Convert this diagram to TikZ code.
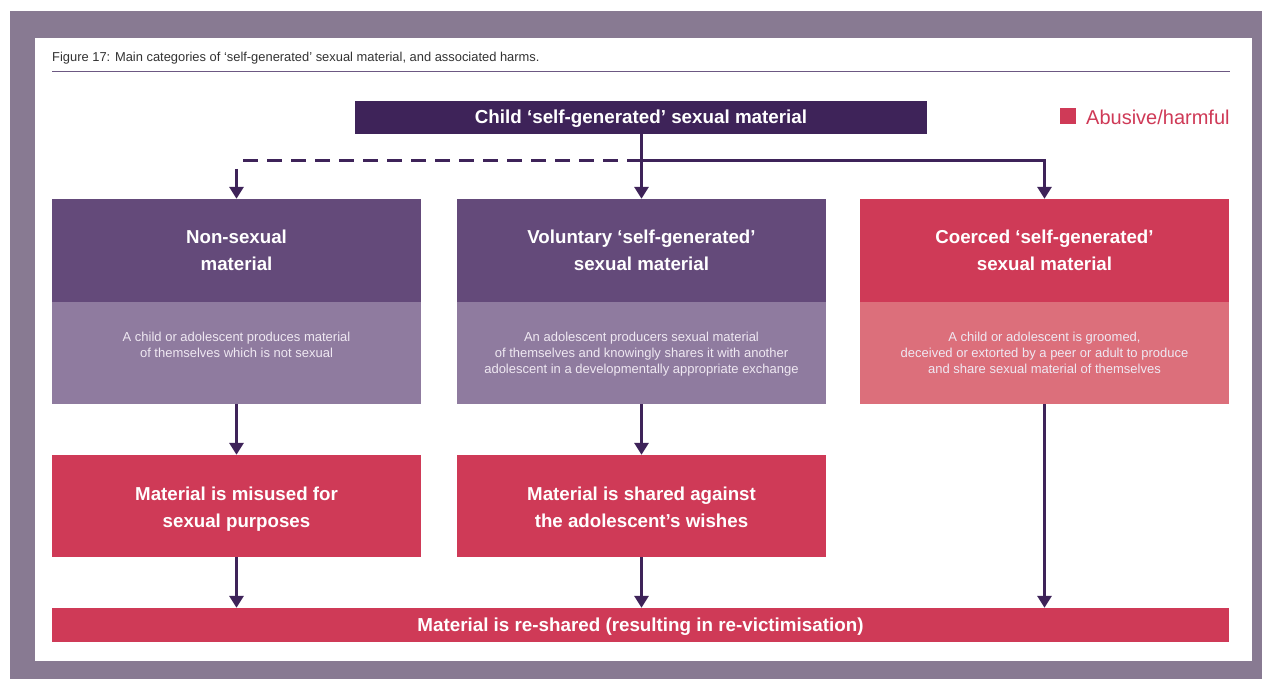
\documentclass[tikz,border=0pt]{standalone}
\usepackage{fontspec}
\setmainfont{Liberation Sans}
\usetikzlibrary{arrows.meta}
\definecolor{framec}{HTML}{887A92}
\definecolor{darkp}{HTML}{3E2359}
\definecolor{headp}{HTML}{644A7A}
\definecolor{descp}{HTML}{8F7B9F}
\definecolor{redc}{HTML}{CF3A57}
\definecolor{lightr}{HTML}{DC6F7B}
\definecolor{descw}{HTML}{EFE8F2}
\definecolor{rulec}{HTML}{6C5882}
\definecolor{capc}{HTML}{333333}
\tikzset{
  colbox/.style={rectangle, inner sep=0pt, minimum width=369pt, align=center, text=white},
  headbox/.style={colbox, minimum height=103pt, font=\bfseries\fontsize{18.7}{27}\selectfont},
  descbox/.style={colbox, minimum height=102pt},
  desctext/.style={align=center, text=descw, anchor=north, inner sep=0pt, font=\fontsize{13}{16}\selectfont},
  harmbox/.style={colbox, fill=redc, minimum height=102pt, font=\bfseries\fontsize{18.7}{27}\selectfont},
  arr/.style={draw=darkp, line width=3pt, -{Triangle[width=14pt,length=12pt]}},
  link/.style={draw=darkp, line width=3pt},
}
\begin{document}
\begin{tikzpicture}[x=1pt,y=-1pt]
\useasboundingbox (0,0) rectangle (1262,679);
\fill[white] (0,0) rectangle (1262,679);
\fill[framec] (10,11) rectangle (1262,679);
\fill[white] (35,38) rectangle (1252,661);

% caption and rule
\node[anchor=west, inner sep=0pt, text=capc, font=\fontsize{12.9}{14}\selectfont] (cap) at (52,58)
  {Figure 17: Main categories of ‘self-generated’ sexual material, and associated harms.};
\draw[rulec, line width=1.2pt] (52,71.5) -- (1230,71.5);

% top box
\node[rectangle, fill=darkp, inner sep=0pt, minimum width=572pt, minimum height=33pt, text=white,
  text height=15pt, text depth=2pt,
  font=\bfseries\fontsize{18.8}{20}\selectfont] (top) at (641,117.5) {Child ‘self-generated’ sexual material};

% legend
\node[rectangle, fill=redc, inner sep=0pt, minimum width=16pt, minimum height=16pt] (legsq) at (1068,116) {};
\node[anchor=west, inner sep=0pt, text=redc, font=\fontsize{20}{22}\selectfont] (legtx) at (1086,117.5) {Abusive/harmful};

% column headers
\node[headbox, fill=headp] (lh) at (236.5,250.5) {Non-sexual\\material};
\node[headbox, fill=headp] (mh) at (641.5,250.5) {Voluntary ‘self-generated’\\sexual material};
\node[headbox, fill=redc] (rh) at (1044.5,250.5) {Coerced ‘self-generated’\\sexual material};

% descriptions
\node[descbox, fill=descp] (ld) at (236.5,353) {};
\node[descbox, fill=descp] (md) at (641.5,353) {};
\node[descbox, fill=lightr] (rd) at (1044.5,353) {};
\node[desctext] (ldt) at (236.5,331.5) {A child or adolescent produces material\\of themselves which is not sexual};
\node[desctext] (mdt) at (641.5,331.5) {An adolescent producers sexual material\\of themselves and knowingly shares it with another\\adolescent in a developmentally appropriate exchange};
\node[desctext] (rdt) at (1044.5,331.5) {A child or adolescent is groomed,\\deceived or extorted by a peer or adult to produce\\and share sexual material of themselves};

% harm boxes
\node[harmbox] (lharm) at (236.5,506) {\rule{0pt}{20pt}Material is misused for\\sexual purposes\rule[-4pt]{0pt}{1pt}};
\node[harmbox] (mharm) at (641.5,506) {\rule{0pt}{20pt}Material is shared against\\the adolescent’s wishes\rule[-4pt]{0pt}{1pt}};

% bottom bar
\node[rectangle, fill=redc, inner sep=0pt, minimum width=1177pt, minimum height=34pt, text=white,
  text height=15pt, text depth=2pt,
  font=\bfseries\fontsize{18.8}{20}\selectfont] (bar) at (640.5,625) {Material is re-shared (resulting in re-victimisation)};

% top connectors
\coordinate (jc) at (641.5,161);
\coordinate (jl) at (236.5,161);
\coordinate (jl2) at (236.5,169);
\coordinate (jr) at (1044.5,161);
\draw[link] (top.south -| jc) -- (jc);
\draw[arr] (jc) -- (mh.north);
\draw[link, dash pattern=on 15pt off 9pt] (jc) -- (jl);
\draw[arr] (jl2) -- (lh.north);
\draw[link] (jc) -- (jr);
\draw[arr] (jr) -- (rh.north);
\fill[darkp] (1043,159.5) rectangle (1046,162.5);

% lower connectors
\draw[arr] (ld.south) -- (lharm.north);
\draw[arr] (md.south) -- (mharm.north);
\draw[arr] (lharm.south) -- (lharm.south |- bar.north);
\draw[arr] (mharm.south) -- (mharm.south |- bar.north);
\draw[arr] (rd.south) -- (rd.south |- bar.north);
\end{tikzpicture}
\end{document}
